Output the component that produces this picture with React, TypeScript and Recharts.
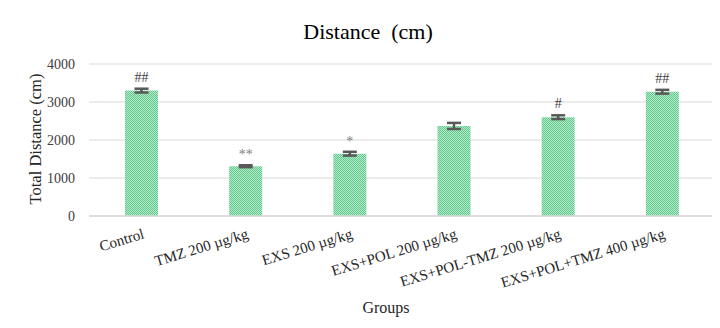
import { BarChart, Bar, XAxis, YAxis, CartesianGrid, ErrorBar, LabelList, Label } from 'recharts';

const groups = ['Control', 'TMZ 200 µg/kg', 'EXS 200 µg/kg', 'EXS+POL 200 µg/kg', 'EXS+POL-TMZ 200 µg/kg', 'EXS+POL+TMZ 400 µg/kg'];
const distance = [3300, 1310, 1640, 2370, 2600, 3270];
const errors = [50, 25, 50, 80, 50, 50];
const marks = ['##', '**', '*', '', '#', '##'];
const yTicks = [0, 1000, 2000, 3000, 4000];

const data = groups.map((g, i) => ({ group: g, value: distance[i], err: errors[i], mark: marks[i] }));

const font = '"Liberation Serif", "Times New Roman", serif';

function GroupTick(props: any) {
  const { x, y, payload } = props;
  return (
    <g transform={`translate(${x + 4},${y + 14})`}>
      <text textAnchor="end" transform="rotate(-17)" fontFamily={font} fontSize={15} fill="#262626">
        {payload.value}
      </text>
    </g>
  );
}

function MarkLabel(props: any) {
  const { x, y, width, height, index } = props;
  const d = data[index];
  if (!d || !d.mark) return null;
  const errTop = y - (d.err * height) / d.value;
  const isStar = d.mark.includes('*');
  return (
    <text
      x={x + width / 2}
      y={errTop - (isStar ? 6 : 7)}
      textAnchor="middle"
      fontFamily={font}
      fontSize={14}
      fill={isStar ? '#7f7f7f' : '#404040'}
    >
      {d.mark}
    </text>
  );
}

export default function App() {
  return (
    <div style={{ position: 'relative', margin: -8, width: 720, height: 328, overflow: 'hidden', background: '#fff' }}>
      <div style={{ position: 'absolute', left: 4, top: 6, width: 760, height: 400, border: '1px solid #d9d9d9' }} />
      <div
        style={{
          position: 'absolute',
          left: 0,
          width: 736,
          top: 19,
          textAlign: 'center',
          fontFamily: font,
          fontSize: 22,
          color: '#000',
          whiteSpace: 'pre',
        }}
      >
        {'Distance  (cm)'}
      </div>
      <div style={{ position: 'absolute', left: 0, top: 0 }}>
        <BarChart width={720} height={328} data={data} margin={{ top: 64, right: 6, left: 0, bottom: 52 }}>
          <defs>
            <pattern id="dots" width="2" height="2" patternUnits="userSpaceOnUse">
              <rect width="2" height="2" fill="#b8eacb" />
              <rect width="1" height="1" fill="#5cc98a" />
              <rect x="1" y="1" width="1" height="1" fill="#5cc98a" />
            </pattern>
          </defs>
          <CartesianGrid vertical={false} stroke="#d9d9d9" />
          <XAxis
            dataKey="group"
            interval={0}
            height={60}
            axisLine={{ stroke: '#d9d9d9', strokeWidth: 1.5 }}
            tickLine={false}
            tick={<GroupTick />}
          >
            <Label
              content={() => (
                <text x={386} y={313} textAnchor="middle" fontFamily={font} fontSize={16} fill="#262626">
                  Groups
                </text>
              )}
            />
          </XAxis>
          <YAxis
            width={89}
            domain={[0, 4000]}
            ticks={yTicks}
            axisLine={false}
            tickLine={false}
            tickMargin={8}
            tick={{ fontFamily: font, fontSize: 14, fill: '#404040' }}
          >
            <Label
              content={() => (
                <text
                  x={41}
                  y={139}
                  transform="rotate(-90 41 139)"
                  textAnchor="middle"
                  fontFamily={font}
                  fontSize={16.5}
                  fill="#262626"
                >
                  Total Distance (cm)
                </text>
              )}
            />
          </YAxis>
          <Bar dataKey="value" fill="url(#dots)" barSize={33} isAnimationActive={false}>
            <ErrorBar dataKey="err" width={7} stroke="#595959" strokeWidth={2.5} />
            <LabelList dataKey="mark" content={<MarkLabel />} />
          </Bar>
        </BarChart>
      </div>
    </div>
  );
}
